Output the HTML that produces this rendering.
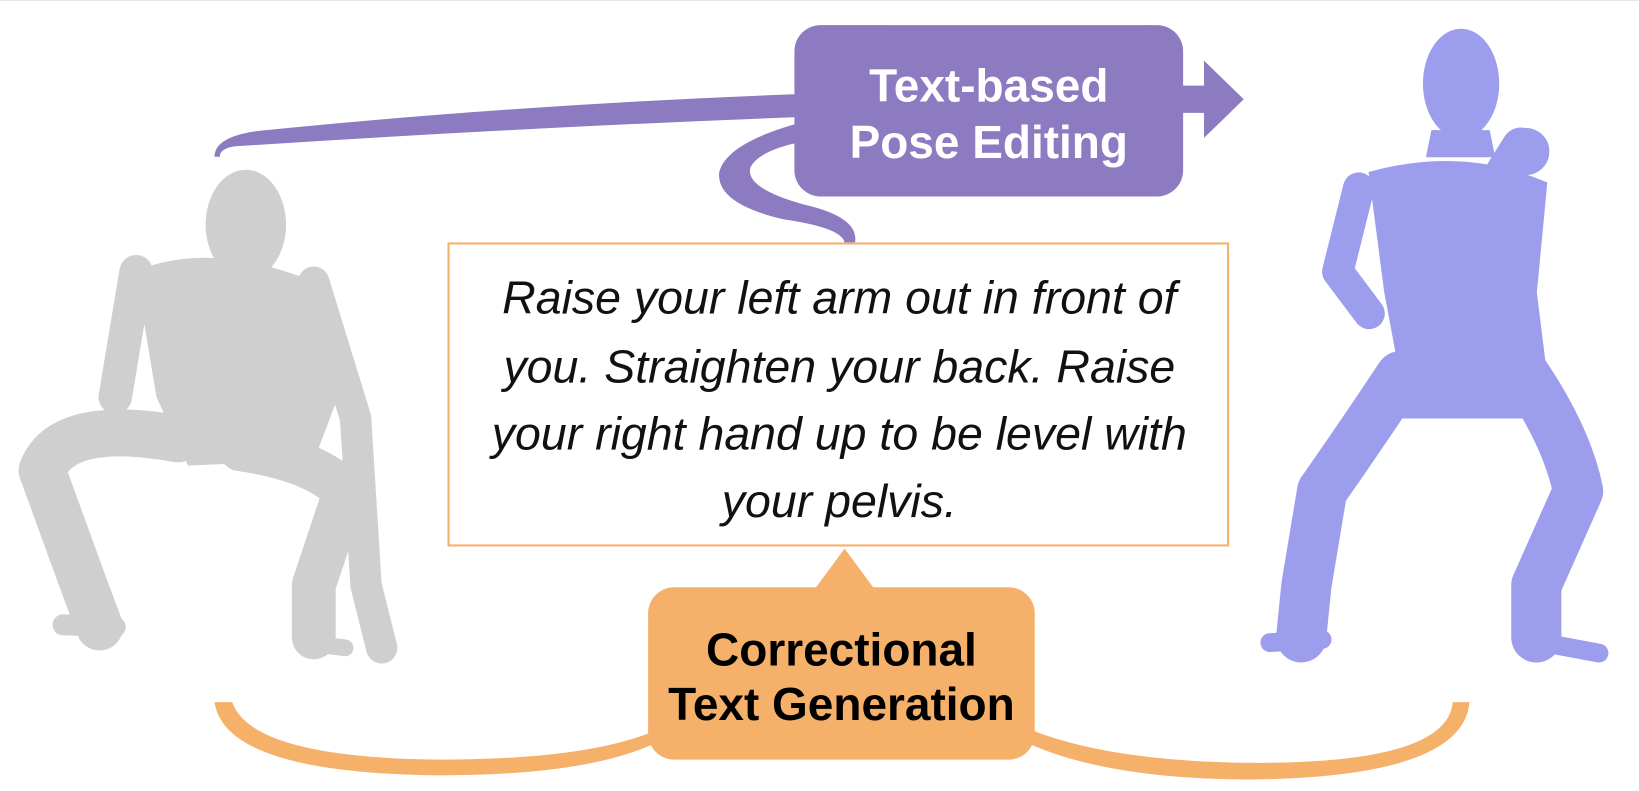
<!DOCTYPE html>
<html><head><style>
html,body{margin:0;padding:0;background:#fff;width:1639px;height:791px;overflow:hidden}
svg{display:block}
text{font-family:"Liberation Sans",sans-serif}
</style></head><body>
<svg width="1639" height="791" viewBox="0 0 1568 757" xmlns="http://www.w3.org/2000/svg">
<rect x="0" y="0" width="1568" height="757" fill="#fff"/>
<line x1="0" y1="0.5" x2="1568" y2="0.5" stroke="#e6e6e6" stroke-width="1"/>
<!-- left grey figure -->
<g fill="#cfcfcf" stroke="#cfcfcf" stroke-linecap="round" stroke-linejoin="round">
  <ellipse cx="235" cy="215" rx="38" ry="52"/>
  <path d="M130 260 Q200 230 300 270 L330 360 L300 440 L180 445 L150 380 Z"/>
  <path d="M130 260 L110 380" stroke-width="32" fill="none"/>
  <path d="M300 270 L340 400 L350 560 L365 620" stroke-width="30" fill="none"/>
  <path d="M170 420 Q60 400 40 450 L80 560 L95 600" stroke-width="45" fill="none"/>
  <path d="M60 598 L110 600" stroke-width="20" fill="none"/>
  <path d="M230 430 Q300 440 330 470 L300 560 L300 610" stroke-width="42" fill="none"/>
  <path d="M290 615 L330 620" stroke-width="16" fill="none"/>
</g>
<!-- right purple figure -->
<g fill="#9d9ded" stroke="#9d9ded" stroke-linecap="round" stroke-linejoin="round">
  <ellipse cx="1398" cy="80" rx="36" ry="52"/>
  <path d="M1370 125 L1425 125 L1430 150 L1365 150 Z"/>
  <path d="M1310 165 Q1400 140 1480 175 L1470 280 L1480 360 L1340 360 L1325 280 Z"/>
  <path d="M1300 180 L1280 260 L1310 300" stroke-width="30" fill="none"/>
  <path d="M1430 180 L1455 140" stroke-width="36" fill="none"/>
  <circle cx="1460" cy="145" r="22"/>
  <path d="M1340 360 Q1300 420 1265 470 L1250 560 L1245 610" stroke-width="48" fill="none"/>
  <path d="M1215 615 L1265 612" stroke-width="18" fill="none"/>
  <path d="M1460 360 Q1500 420 1510 470 L1470 560 L1470 610" stroke-width="48" fill="none"/>
  <path d="M1460 612 L1530 625" stroke-width="18" fill="none"/>
  <path d="M1340 330 L1470 330 L1470 400 L1340 400 Z"/>
</g>
<!-- purple connectors -->
<path d="M205 150 Q205 128 260 124 Q500 100 765 90 L765 112 Q500 122 225 140 Q210 142 210 150 Z" fill="#8c7bc0"/>
<path d="M775 115 Q695 135 688 165 Q685 195 750 210 Q805 218 808 232 L818 232 Q822 208 770 196 Q712 180 718 160 Q728 140 790 132 Z" fill="#8c7bc0"/>
<rect x="760" y="24" width="372" height="164" rx="25" fill="#8c7bc0"/>
<path d="M1125 82 L1152 82 L1152 58 L1190 95 L1152 132 L1152 108 L1125 108 Z" fill="#8c7bc0"/>
<text x="946" y="97" fill="#fff" font-size="44" font-weight="bold" text-anchor="middle">Text-based</text>
<text x="946" y="151" fill="#fff" font-size="44" font-weight="bold" text-anchor="middle">Pose Editing</text>
<!-- text box -->
<rect x="429" y="233" width="746" height="289" fill="#fff" stroke="#f5b06a" stroke-width="2"/>
<g font-size="44.5" font-style="italic" fill="#111" text-anchor="middle">
<text x="803" y="300">Raise your left arm out in front of</text>
<text x="803" y="366">you. Straighten your back. Raise</text>
<text x="803" y="430">your right hand up to be level with</text>
<text x="803" y="495">your pelvis.</text>
</g>
<!-- orange curves -->
<path d="M205 672 Q215 740 420 742 Q560 742 625 712 L625 700 Q560 727 420 727 Q240 725 222 672 Z" fill="#f5b06a"/>
<path d="M985 698 Q1060 728 1190 730 Q1385 732 1390 672 L1406 672 Q1400 745 1190 746 Q1060 745 985 712 Z" fill="#f5b06a"/>
<path d="M780 563 L808 525 L836 563 Z" fill="#f5b06a"/>
<rect x="620" y="562" width="370" height="165" rx="25" fill="#f5b06a"/>
<text x="805" y="637" fill="#000" font-size="44" font-weight="bold" text-anchor="middle">Correctional</text>
<text x="805" y="689" fill="#000" font-size="44" font-weight="bold" text-anchor="middle">Text Generation</text>
</svg>
</body></html>
